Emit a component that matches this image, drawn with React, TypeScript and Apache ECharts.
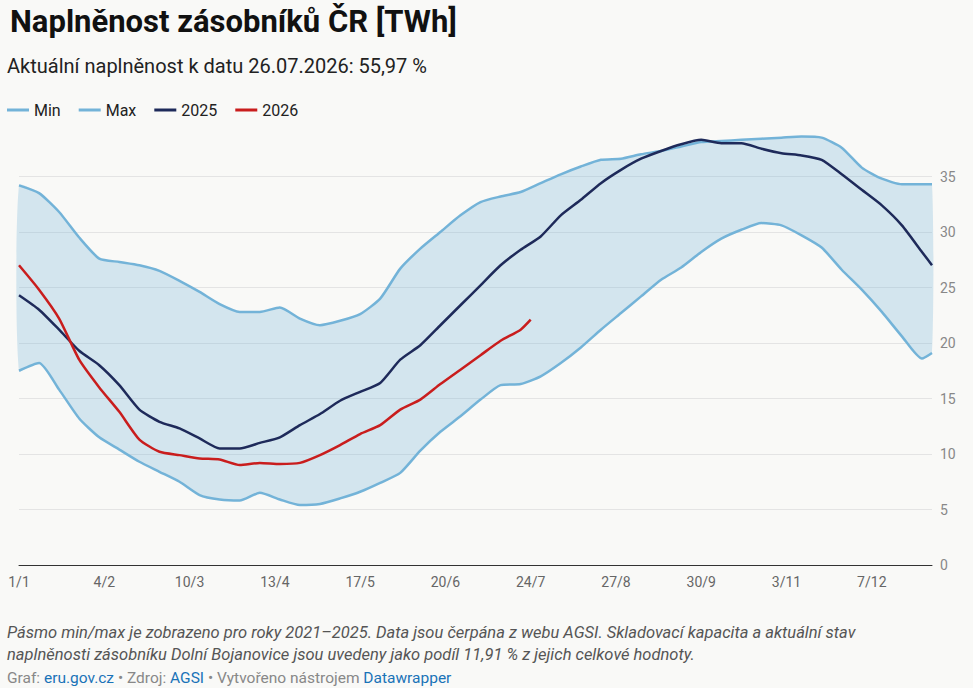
import React, { useEffect, useRef } from 'react';
import * as echarts from 'echarts';

const days = [0, 8, 16, 24, 32, 40, 48, 56, 64, 72, 80, 88, 96, 104, 112, 120, 128, 136, 144, 152, 160, 168, 176, 184, 192, 200, 208, 216, 224, 232, 240, 248, 256, 264, 272, 280, 288, 296, 304, 312, 320, 328, 336, 344, 352, 360, 364];
const maxValues = [34.2, 33.5, 31.8, 29.5, 27.6, 27.3, 27.0, 26.5, 25.6, 24.6, 23.5, 22.8, 22.8, 23.2, 22.2, 21.6, 22.0, 22.6, 24.0, 26.7, 28.5, 30.0, 31.5, 32.7, 33.2, 33.6, 34.4, 35.2, 35.9, 36.5, 36.6, 37.0, 37.3, 37.7, 38.1, 38.2, 38.3, 38.4, 38.5, 38.6, 38.5, 37.6, 35.8, 34.8, 34.3, 34.3, 34.3];
const minValues = [17.5, 18.2, 15.8, 13.2, 11.5, 10.4, 9.3, 8.4, 7.5, 6.3, 5.9, 5.8, 6.5, 5.9, 5.4, 5.5, 6.0, 6.6, 7.4, 8.3, 10.3, 12.0, 13.4, 14.9, 16.2, 16.3, 17.0, 18.2, 19.6, 21.2, 22.7, 24.2, 25.7, 26.8, 28.2, 29.4, 30.2, 30.8, 30.6, 29.7, 28.6, 26.6, 24.8, 22.8, 20.6, 18.6, 19.1];
const values2025 = [24.3, 23.0, 21.2, 19.3, 18.0, 16.2, 14.0, 12.9, 12.3, 11.4, 10.5, 10.5, 11.0, 11.5, 12.6, 13.6, 14.8, 15.6, 16.4, 18.5, 19.8, 21.6, 23.4, 25.2, 27.0, 28.4, 29.6, 31.5, 32.9, 34.4, 35.6, 36.6, 37.3, 37.9, 38.3, 38.0, 38.0, 37.5, 37.1, 36.9, 36.5, 35.2, 33.8, 32.4, 30.6, 28.2, 27.0];
const days2026 = [0, 8, 16, 24, 32, 40, 48, 56, 64, 72, 80, 88, 96, 104, 112, 120, 128, 136, 144, 152, 160, 168, 176, 184, 192, 200, 204];
const values2026 = [27.0, 24.8, 22.2, 18.5, 16.0, 13.8, 11.3, 10.2, 9.9, 9.6, 9.5, 9.0, 9.2, 9.1, 9.2, 9.9, 10.8, 11.8, 12.6, 14.0, 14.9, 16.3, 17.6, 18.9, 20.2, 21.2, 22.1];
const xLabels = ['1/1', '4/2', '10/3', '13/4', '17/5', '20/6', '24/7', '27/8', '30/9', '3/11', '7/12'];

const BAND = '#73b3d8';
const pair = (d: number[], v: number[]) => d.map((x, i) => [x, v[i]]);

const App: React.FC = () => {
  const chartRef = useRef<HTMLDivElement | null>(null);

  useEffect(() => {
    if (!chartRef.current) return;
    const chart = echarts.init(chartRef.current, null, { renderer: 'svg' });
    const font = 'Roboto, sans-serif';
    chart.setOption({
      animation: false,
      backgroundColor: '#f9f9f7',
      textStyle: { fontFamily: font },
      title: [
        { text: 'Naplněnost zásobníků ČR [TWh]', left: 5, top: 1, textStyle: { fontSize: 31, fontWeight: 'bold', color: '#111', fontFamily: font } },
        { text: 'Aktuální naplněnost k datu 26.07.2026: 55,97 %', left: 2, top: 51, textStyle: { fontSize: 20, fontWeight: 'normal', color: '#222', fontFamily: font } },
      ],
      legend: {
        left: 2, top: 97, itemWidth: 22, itemHeight: 3, itemGap: 18,
        icon: 'rect',
        textStyle: { fontSize: 16, color: '#222', fontFamily: font },
        data: ['Min', 'Max', '2025', '2026'],
      },
      grid: { left: 19, right: 41, top: 121, bottom: 123 },
      xAxis: {
        type: 'value', min: 0, max: 364, interval: 34,
        axisLine: { show: true, lineStyle: { color: '#333' } },
        axisTick: { show: false },
        splitLine: { show: false },
        axisLabel: {
          color: '#666', fontSize: 14, margin: 10, showMaxLabel: false,
          formatter: (v: number) => xLabels[Math.round(v / 34)] ?? '',
        },
      },
      yAxis: {
        type: 'value', position: 'right', min: 0, max: 40, interval: 5,
        axisLine: { show: false },
        axisTick: { show: false },
        axisLabel: { color: '#888', fontSize: 14, margin: 8, formatter: (v: number) => (v === 40 ? '' : String(v)) },
        splitLine: { lineStyle: { color: ['#dcdcdc', '#e4e4e4', '#e4e4e4', '#e4e4e4', '#e4e4e4', '#e4e4e4', '#e4e4e4', '#e4e4e4', 'rgba(0,0,0,0)'] } },
      },
      series: [
        {
          name: 'band', type: 'custom', silent: true, z: 1,
          data: [0],
          renderItem: (_params: any, api: any) => {
            const upper = days.map((d, i) => api.coord([d, maxValues[i]]));
            const lower = days.map((d, i) => api.coord([d, minValues[i]])).reverse();
            return {
              type: 'polygon',
              shape: { points: upper.concat(lower), smooth: 0.2 },
              style: { fill: 'rgba(115,179,216,0.28)' },
            };
          },
        },
        { name: 'Min', type: 'line', symbol: 'none', smooth: 0.2, z: 3, color: BAND, lineStyle: { width: 2.5 }, data: pair(days, minValues) },
        { name: 'Max', type: 'line', symbol: 'none', smooth: 0.2, z: 3, color: BAND, lineStyle: { width: 2.5 }, data: pair(days, maxValues) },
        { name: '2025', type: 'line', symbol: 'none', smooth: 0.2, z: 4, color: '#1e2a5a', lineStyle: { width: 2.5 }, data: pair(days, values2025) },
        { name: '2026', type: 'line', symbol: 'none', smooth: 0.2, z: 5, color: '#c91d1d', lineStyle: { width: 2.5 }, data: pair(days2026, values2026) },
      ],
      graphic: [
        {
          type: 'text', left: 7, top: 621,
          style: {
            text: 'Pásmo min/max je zobrazeno pro roky 2021–2025. Data jsou čerpána z webu AGSI. Skladovací kapacita a aktuální stav\nnaplněnosti zásobníku Dolní Bojanovice jsou uvedeny jako podíl 11,91 % z jejich celkové hodnoty.',
            fontSize: 16.5, fontStyle: 'italic', fill: '#555', lineHeight: 22, fontFamily: font,
          },
        },
        {
          type: 'text', left: 7, top: 670,
          style: {
            text: '{g|Graf: }{b|eru.gov.cz}{g| • Zdroj: }{b|AGSI}{g| • Vytvořeno nástrojem }{b|Datawrapper}',
            fontFamily: font,
            rich: {
              g: { fontSize: 15.5, fill: '#888', fontFamily: font },
              b: { fontSize: 15.5, fill: '#1a73b8', fontFamily: font },
            },
          },
        },
      ],
    });
    return () => chart.dispose();
  }, []);

  return <div ref={chartRef} style={{ width: 973, height: 688, position: 'absolute', left: 0, top: 0 }} />;
};

export default App;
